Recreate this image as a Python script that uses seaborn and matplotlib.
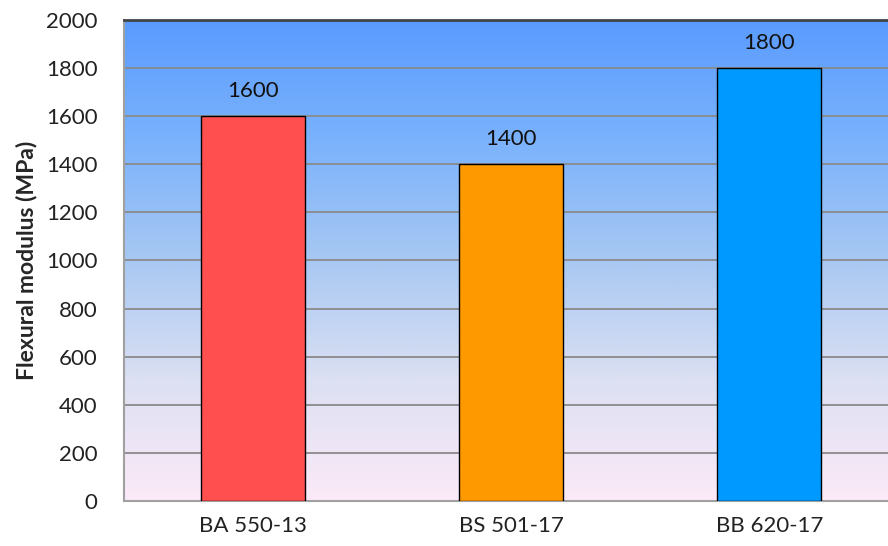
import numpy as np
import pandas as pd
import matplotlib
matplotlib.use("Agg")
import matplotlib.pyplot as plt
from matplotlib.colors import LinearSegmentedColormap
import seaborn as sns

samples = ["BA 550-13", "BS 501-17", "BB 620-17"]
modulus = [1600, 1400, 1800]
bar_colors = ["#FF4F4F", "#FF9900", "#0099FF"]

df = pd.DataFrame({"sample": samples, "modulus": modulus})

sns.set_theme(style="white")
plt.rcParams["font.family"] = ["Lato", "DejaVu Sans"]

fig = plt.figure(figsize=(8.88, 5.46), dpi=100)
ax = fig.add_axes([0.1396, 0.0824, 0.8723, 0.881])

# gradient background
grad = LinearSegmentedColormap.from_list(
    "bg", ["#FCEAF8", "#DCE0F2", "#A8C8F2", "#7AB2FC", "#5A9BFE"])
ax.imshow(np.linspace(0, 1, 256).reshape(-1, 1), cmap=grad, aspect="auto",
          origin="lower", extent=[0, 1, 0, 1], transform=ax.transAxes, zorder=0)

sns.barplot(data=df, x="sample", y="modulus", hue="sample", palette=bar_colors,
            saturation=1, width=0.403, edgecolor="black", linewidth=1,
            legend=False, ax=ax, zorder=3)

for c in ax.containers:
    ax.bar_label(c, padding=11, fontsize=16, color="#111111")

ax.set_ylim(0, 2000)
ax.set_xlim(-0.5, 2.5)
ax.set_yticks(range(0, 2001, 200))
ax.yaxis.grid(True, color="#8a8a8a", linewidth=1.3, zorder=1)
ax.set_axisbelow(True)
ax.tick_params(axis="both", labelsize=16, colors="#222222", length=0)
ax.tick_params(axis="y", pad=19)
ax.tick_params(axis="x", pad=11)
ax.set_xlabel("")
ax.set_ylabel("Flexural modulus (MPa)", fontsize=16.5, fontweight="bold", labelpad=6)

for s in ["left", "bottom"]:
    ax.spines[s].set_color("#a0a0a0")
    ax.spines[s].set_linewidth(1.5)
ax.spines["top"].set_color("#444444")
ax.spines["top"].set_linewidth(2)
ax.spines["right"].set_visible(False)

fig.savefig("out.png", dpi=100)
